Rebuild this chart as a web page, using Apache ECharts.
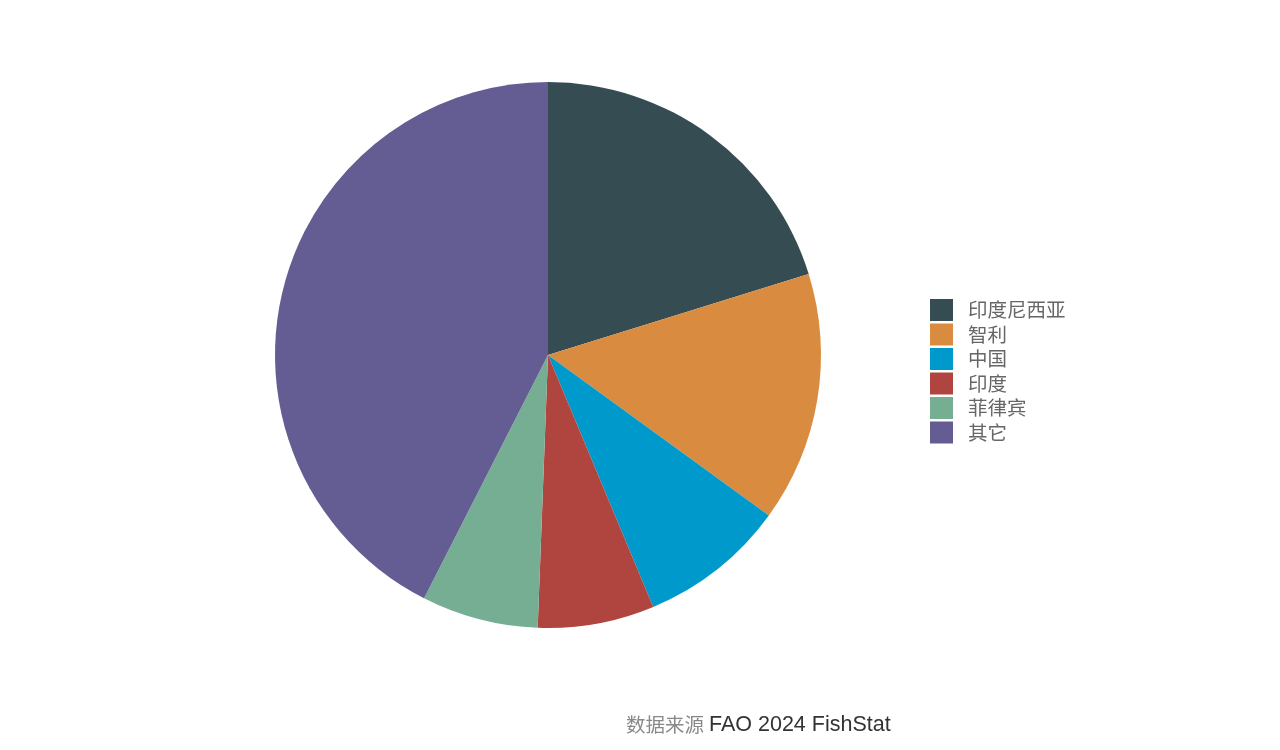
<!DOCTYPE html>
<html><head><meta charset="utf-8">
<script src="https://cdn.jsdelivr.net/npm/echarts@6/dist/echarts.min.js"></script>
<style>html,body{margin:0;padding:0;background:#fff}#c{width:1280px;height:750px}</style>
</head><body><div id="c"></div>
<script>
const categories = ['印度尼西亚', '智利', '中国', '印度', '菲律宾', '其它'];
const values = [20.2, 14.8, 8.7, 6.9, 6.9, 42.5];
const colors = ['#354d52', '#d98c3f', '#0099cc', '#b0443f', '#76ae94', '#635d93'];
const sourceLabel = '数据来源';
const sourceText = 'FAO 2024 FishStat';

const chart = echarts.init(document.getElementById('c'));
chart.setOption({
  backgroundColor: '#fff',
  animation: false,
  color: colors,
  title: {
    text: '{a|' + sourceLabel + '} {b|' + sourceText + '}',
    left: 626, top: 714, padding: 0,
    textStyle: {
      fontWeight: 'normal',
      rich: {
        a: { fontSize: 19.5, color: '#888', fontFamily: 'Noto Sans CJK SC', fontWeight: 'normal' },
        b: { fontSize: 21.5, color: '#333', fontFamily: 'Liberation Sans', fontWeight: 'normal' }
      }
    }
  },
  legend: {
    orient: 'vertical',
    left: 930, top: 299, padding: 0,
    itemWidth: 23, itemHeight: 22, itemGap: 2.5,
    icon: 'rect',
    data: categories,
    textStyle: { fontSize: 19.5, color: '#666', fontFamily: 'Noto Sans CJK SC', padding: [0, 0, 0, 10] }
  },
  series: [{
    type: 'pie',
    center: [548, 355],
    radius: 273,
    startAngle: 90,
    clockwise: true,
    label: { show: false },
    labelLine: { show: false },
    itemStyle: { borderWidth: 0 },
    emphasis: { disabled: true },
    data: categories.map((n, i) => ({ name: n, value: values[i] }))
  }]
});
</script></body></html>
